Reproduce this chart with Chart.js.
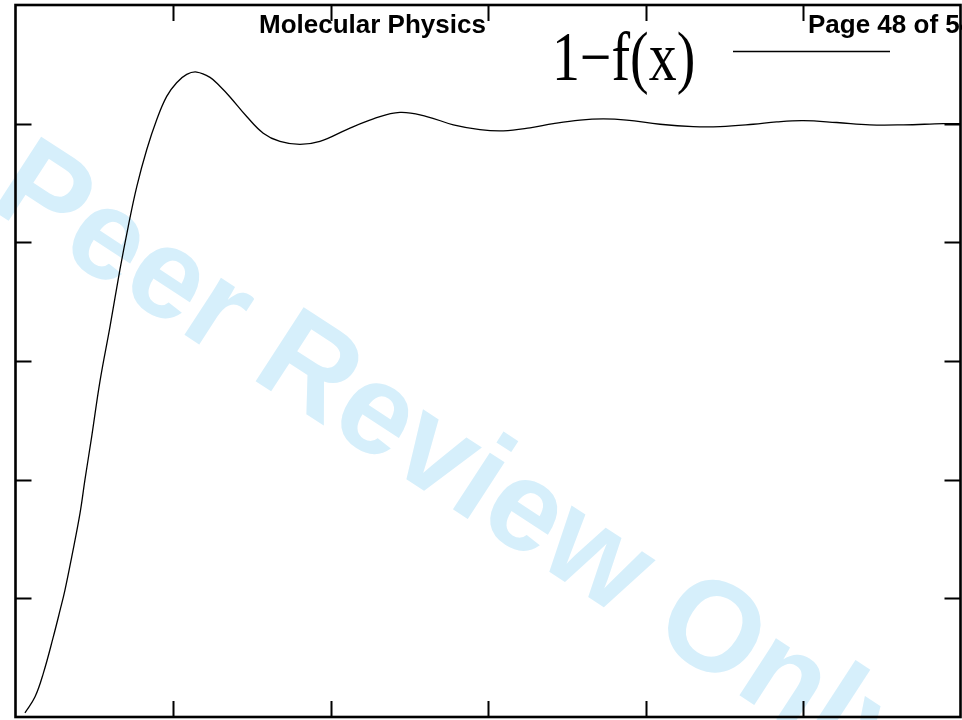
<!DOCTYPE html>
<html>
<head>
<meta charset="utf-8">
<script src="https://cdn.jsdelivr.net/npm/chart.js@4/dist/chart.umd.min.js"></script>
<style>
  html, body { margin: 0; padding: 0; background: #fff; }
  canvas { display: block; }
</style>
</head>
<body>
<canvas id="chart" width="962" height="720"></canvas>
<script>
// curve values
const xValues = [0.060, 0.124, 0.177, 0.240, 0.283, 0.314, 0.357, 0.410, 0.441, 0.484,
    0.537, 0.600, 0.663, 0.716, 0.770, 0.833, 0.897, 0.960, 1.023, 1.087,
    1.150, 1.235, 1.298, 1.362, 1.468, 1.573, 1.679, 1.806, 1.933, 2.103,
    2.272, 2.441, 2.611, 2.780, 2.949, 3.097, 3.267, 3.415, 3.584, 3.732,
    3.881, 4.092, 4.303, 4.473, 4.684, 4.833, 5.002, 5.214, 5.425, 5.637,
    5.891, 6.000];
const yValues = [0.007, 0.034, 0.074, 0.135, 0.180, 0.214, 0.270, 0.344, 0.400, 0.473,
    0.567, 0.658, 0.754, 0.827, 0.894, 0.956, 1.007, 1.046, 1.069, 1.083,
    1.087, 1.078, 1.063, 1.045, 1.012, 0.984, 0.970, 0.965, 0.970, 0.990,
    1.008, 1.019, 1.012, 0.998, 0.990, 0.988, 0.993, 1.000, 1.006, 1.008,
    1.006, 0.999, 0.995, 0.995, 0.999, 1.003, 1.005, 1.002, 0.998, 0.998,
    1.000, 1.000];

const xTicks = [1, 2, 3, 4, 5];
const yTicks = [0.2, 0.4, 0.6, 0.8, 1.0];

const seriesLabel = '1\u2212f(x)';
const headerLeft = 'Molecular Physics';
const headerRight = 'Page 48 of 54';
const watermark = 'Peer Review Only';

const points = xValues.map((x, i) => ({ x: x, y: yValues[i] }));

// light blue watermark behind the curve
const watermarkPlugin = {
    id: 'watermark',
    beforeDatasetsDraw(chart) {
        const ctx = chart.ctx;
        ctx.save();
        ctx.fillStyle = '#d6effb';
        ctx.font = 'bold 128px "Liberation Sans", Arial, sans-serif';
        ctx.translate(-14, 206);
        ctx.rotate(33 * Math.PI / 180);
        ctx.textBaseline = 'alphabetic';
        ctx.fillText(watermark, 0, 0);
        ctx.restore();
    }
};

// box with inward ticks, header texts and legend
const framePlugin = {
    id: 'frame',
    afterDraw(chart) {
        const ctx = chart.ctx;
        const area = chart.chartArea;
        const xs = chart.scales.x;
        const ys = chart.scales.y;
        ctx.save();
        ctx.strokeStyle = '#000';

        ctx.lineWidth = 2;
        ctx.beginPath();
        xTicks.forEach(t => {
            const px = Math.round(xs.getPixelForValue(t)) + 0.5;
            ctx.moveTo(px, area.bottom);
            ctx.lineTo(px, area.bottom - 16);
            ctx.moveTo(px, area.top);
            ctx.lineTo(px, area.top + 16);
        });
        yTicks.forEach(t => {
            const py = Math.round(ys.getPixelForValue(t)) + 0.5;
            ctx.moveTo(area.left, py);
            ctx.lineTo(area.left + 16, py);
            ctx.moveTo(area.right, py);
            ctx.lineTo(area.right - 16, py);
        });
        ctx.stroke();

        ctx.lineWidth = 2.6;
        ctx.strokeRect(area.left, area.top, area.right - area.left, area.bottom - area.top);

        ctx.fillStyle = '#000';
        ctx.font = 'bold 26px "Liberation Sans", Arial, sans-serif';
        ctx.textBaseline = 'alphabetic';
        ctx.fillText(headerLeft, 259, 33);
        ctx.fillText(headerRight, 808, 33);

        ctx.save();
        ctx.translate(552, 80);
        ctx.scale(0.81, 1);
        ctx.font = '69px "Liberation Serif", "Times New Roman", serif';
        ctx.fillText(seriesLabel, 0, 0);
        ctx.restore();

        ctx.lineWidth = 1.3;
        ctx.beginPath();
        ctx.moveTo(733, 51.5);
        ctx.lineTo(890, 51.5);
        ctx.stroke();
        ctx.restore();
    }
};

new Chart(document.getElementById('chart'), {
    type: 'scatter',
    data: {
        datasets: [{
            label: seriesLabel,
            data: points,
            showLine: true,
            borderColor: '#000',
            borderWidth: 1.3,
            pointRadius: 0,
            tension: 0.4
        }]
    },
    options: {
        responsive: false,
        animation: false,
        devicePixelRatio: 1,
        layout: {
            padding: { left: 15.5, top: 5, right: 1.5, bottom: 3 }
        },
        scales: {
            x: { type: 'linear', min: 0, max: 6, display: false },
            y: { type: 'linear', min: 0, max: 1.2, display: false }
        },
        plugins: {
            legend: { display: false },
            tooltip: { enabled: false }
        }
    },
    plugins: [watermarkPlugin, framePlugin]
});
</script>
</body>
</html>
